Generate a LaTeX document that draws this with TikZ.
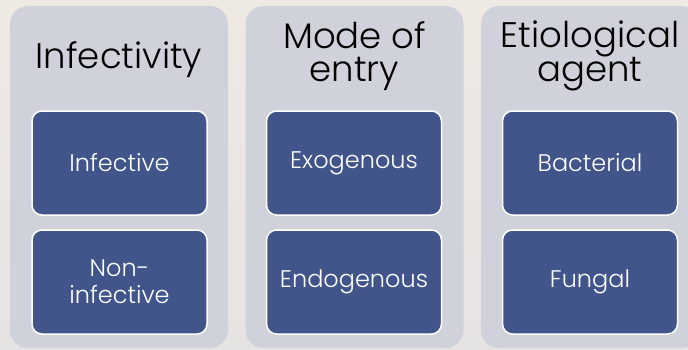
\documentclass[tikz,border=0pt]{standalone}
\usepackage{fontspec}
\setmainfont{Poppins Light}
\usepackage{tikz}
\usepackage{xcolor}

\definecolor{paper}{HTML}{EFE9E3}
\definecolor{papertoo}{HTML}{E6E3E3}
\definecolor{panelgray}{HTML}{CFD2DB}
\definecolor{boxblue}{HTML}{41558A}

\begin{document}
\begin{tikzpicture}[x=1pt,y=-1pt,
    panel/.style={fill=panelgray,rounded corners=18pt,minimum width=218pt,
        minimum height=342pt,inner sep=0pt},
    heading/.style={align=center,text=black,font=\fontsize{35.5}{33}\selectfont},
    kind/.style={draw=white,line width=1.5pt,fill=boxblue,rounded corners=10pt,
        minimum width=175pt,minimum height=104pt,inner sep=0pt,align=center,
        text=white,font=\fontsize{24}{27}\selectfont}]
    % Page
    \useasboundingbox (0,0) rectangle (688,349);
    \shade [top color=paper,bottom color=papertoo] (0,0) rectangle (688,349);
    \clip (0,0) rectangle (688,349);

    % Infectivity
    \node [panel] (infectivity) at (119,177) {};
    \node [heading] (infectivityhead) at (119,60) {Infectivity};
    \node [kind] (infective) at (119.5,163) {Infective};
    \node [kind] (noninfective) at (119.5,282) {Non-\\infective};

    % Mode of entry
    \node [panel] (entry) at (354.5,177) {};
    \node [heading] (entryhead) at (354.5,56) {Mode of\\entry};
    \node [kind] (exogenous) at (354,163) {Exogenous};
    \node [kind] (endogenous) at (354,282) {Endogenous};

    % Etiological agent
    \node [panel] (agent) at (590,177) {};
    \node [heading] (agenthead) at (590,56) {Etiological\\agent};
    \node [kind] (bacterial) at (590,163) {Bacterial};
    \node [kind] (fungal) at (590,282) {Fungal};
\end{tikzpicture}
\end{document}
